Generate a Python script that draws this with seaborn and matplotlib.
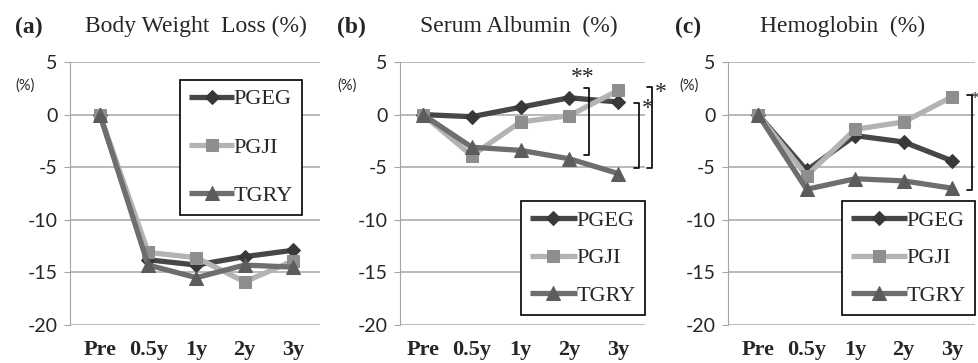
import numpy as np
import pandas as pd
import matplotlib.pyplot as plt
import seaborn as sns

# time points and groups
timepoints = ["Pre", "0.5y", "1y", "2y", "3y"]
groups = ["PGEG", "PGJI", "TGRY"]

# (a) body weight loss (%)
weight_pgeg = [0, -13.8, -14.3, -13.5, -12.9]
weight_pgji = [0, -13.1, -13.6, -15.9, -13.9]
weight_tgry = [0, -14.3, -15.5, -14.3, -14.5]

# (b) serum albumin (%)
albumin_pgeg = [0, -0.2, 0.7, 1.6, 1.2]
albumin_pgji = [0, -3.9, -0.7, -0.1, 2.3]
albumin_tgry = [0, -3.1, -3.4, -4.2, -5.6]

# (c) hemoglobin (%)
hb_pgeg = [0, -5.3, -2.0, -2.6, -4.4]
hb_pgji = [0, -5.8, -1.4, -0.7, 1.7]
hb_tgry = [0, -7.1, -6.1, -6.3, -7.0]

# significance brackets: (x position, top, bottom, label)
albumin_brackets = [(3.40, 2.5, -3.8, "**"), (4.43, 1.1, -5.1, "*"), (4.70, 2.6, -5.1, "*")]
hb_brackets = [(4.41, 1.9, -7.2, "*")]

line_colors = {"PGEG": "#474747", "PGJI": "#b3b3b3", "TGRY": "#6e6e6e"}
marker_colors = {"PGEG": "#383838", "PGJI": "#8e8e8e", "TGRY": "#5c5c5c"}
marker_shapes = {"PGEG": "D", "PGJI": "s", "TGRY": "^"}
marker_sizes = {"PGEG": 7, "PGJI": 9, "TGRY": 10}


def make_frame(pgeg, pgji, tgry):
    rows = []
    for g, vals in zip(groups, [pgeg, pgji, tgry]):
        for t, v in zip(timepoints, vals):
            rows.append({"time": t, "group": g, "value": v})
    return pd.DataFrame(rows)


panels = [
    ("(a)", "Body Weight  Loss (%)", make_frame(weight_pgeg, weight_pgji, weight_tgry), []),
    ("(b)", "Serum Albumin  (%)", make_frame(albumin_pgeg, albumin_pgji, albumin_tgry), albumin_brackets),
    ("(c)", "Hemoglobin  (%)", make_frame(hb_pgeg, hb_pgji, hb_tgry), hb_brackets),
]

sns.set_style("white")
plt.rcParams["font.family"] = ["Lato", "DejaVu Sans"]

W, H = 979, 363
fig = plt.figure(figsize=(W / 100, H / 100), dpi=100)

# axes boxes in pixels: left, right, xlim
boxes = [(70, 320, (-0.62, 4.56)), (400, 645, (-0.47, 4.55)), (728, 975, (-0.62, 4.47))]
label_x = [15, 337, 675]
title_x = [85, 420, 760]
pct_x = [-0.18, -0.215, -0.158]
# legend: loc, anchor, labelspacing, handlelength
legend_opts = [("upper right", (0.928, 0.932), 1.25, 2.0),
               ("lower right", (1.0, 0.038), 0.77, 2.1),
               ("lower right", (1.0, 0.038), 0.77, 2.5)]

for i, (tag, title, df, brackets) in enumerate(panels):
    left, right, xlim = boxes[i]
    ax = fig.add_axes([left / W, (H - 325) / H, (right - left) / W, 263 / H])
    sns.lineplot(data=df, x="time", y="value", hue="group", style="group",
                 palette=line_colors, markers=marker_shapes, dashes=False,
                 sort=False, lw=3.8, legend=False, ax=ax)
    for line, g in zip(ax.get_lines(), groups):
        line.set_markerfacecolor(marker_colors[g])
        line.set_markeredgecolor(marker_colors[g])
        line.set_markersize(marker_sizes[g])
        line.set_solid_capstyle("butt")

    ax.set_xlim(*xlim)
    ax.set_ylim(-20, 5)
    ax.set_yticks([5, 0, -5, -10, -15, -20])
    ax.set_yticklabels(["5", "0", "-5", "-10", "-15", "-20"], fontsize=14)
    ax.yaxis.grid(True, color="#a5a5a5", lw=1.1)
    ax.set_axisbelow(True)
    for s in ["top", "right", "bottom"]:
        ax.spines[s].set_visible(False)
    ax.spines["left"].set_color("#a5a5a5")
    ax.tick_params(axis="y", left=True, length=4, color="#a5a5a5", pad=5)
    ax.tick_params(axis="x", bottom=False, pad=7)
    for lbl in ax.get_xticklabels():
        lbl.set_fontfamily("Liberation Serif")
        lbl.set_fontweight("bold")
        lbl.set_fontsize(16)
    ax.set_xlabel("")
    ax.set_ylabel("")

    ax.text(pct_x[i], 0.909, "(%)", transform=ax.transAxes, fontsize=10.5,
            ha="center", va="center")

    loc, anchor, lsp, hlen = legend_opts[i]
    leg = ax.legend(handles=ax.get_lines()[:3], labels=groups, loc=loc,
                    bbox_to_anchor=anchor, frameon=True, fancybox=False,
                    edgecolor="black", framealpha=1, handlelength=hlen,
                    handletextpad=0.0, labelspacing=lsp, borderpad=0.4,
                    borderaxespad=0,
                    prop={"family": "Liberation Serif", "size": 16})
    leg.get_frame().set_linewidth(1.2)

    for bx, top, bot, lab in brackets:
        d = 0.1
        ax.plot([bx - d, bx, bx, bx - d], [top, top, bot, bot], color="black",
                lw=1.2, clip_on=False)
        if lab == "**":
            ax.annotate(lab, (bx - 0.12, top), xytext=(0, 0), textcoords="offset points",
                        ha="center", va="bottom", fontsize=17, family="Liberation Serif",
                        annotation_clip=False)
        elif i == 2:
            # star at the right edge of the figure
            ax.annotate(lab, (1.0, top), xycoords=("figure fraction", "data"),
                        xytext=(0, -3), textcoords="offset points",
                        ha="right", va="center", fontsize=12, family="Liberation Serif",
                        annotation_clip=False)
        else:
            ax.annotate(lab, (bx, top), xytext=(2, -4), textcoords="offset points",
                        ha="left", va="center", fontsize=17, family="Liberation Serif",
                        annotation_clip=False)

    fig.text(label_x[i] / W, 1 - 27 / H, tag, fontsize=17, fontweight="bold",
             family="Liberation Serif", ha="left", va="center")
    fig.text(title_x[i] / W, 1 - 26 / H, title, fontsize=17,
             family="Liberation Serif", ha="left", va="center")

fig.savefig("out.png", dpi=100)
